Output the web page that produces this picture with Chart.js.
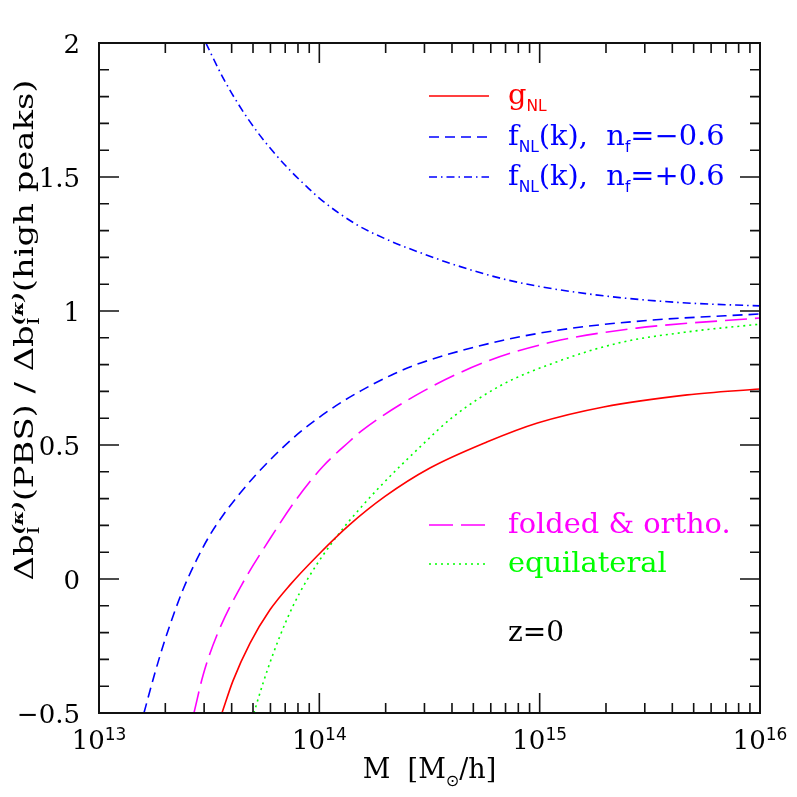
<!DOCTYPE html>
<html>
<head>
<meta charset="utf-8">
<script src="https://cdn.jsdelivr.net/npm/chart.js@4.4.0/dist/chart.umd.min.js"></script>
<style>
  html, body { margin: 0; padding: 0; background: #fff; }
</style>
</head>
<body>
<canvas id="biasChart" width="797" height="797"></canvas>
<script>
// curves: log10(M) and the bias ratio
var gnlLogM = [13.558, 13.608, 13.685, 13.776, 13.867, 13.989, 14.134, 14.298, 14.502, 14.76, 14.99, 15.29, 15.67, 16.0];
var gnlVal = [-0.5, -0.38, -0.240, -0.115, -0.022, 0.085, 0.200, 0.308, 0.414, 0.511, 0.582, 0.642, 0.687, 0.709];

var fnlMinusLogM = [13.204, 13.254, 13.299, 13.345, 13.381, 13.445, 13.504, 13.563, 13.640, 13.717, 13.808, 13.912, 14.016, 14.107, 14.19, 14.34, 14.46, 14.83, 15.14, 15.51, 16.0];
var fnlMinusVal = [-0.5, -0.350, -0.228, -0.118, -0.040, 0.075, 0.165, 0.238, 0.320, 0.393, 0.470, 0.548, 0.613, 0.663, 0.703, 0.766, 0.806, 0.890, 0.935, 0.966, 0.989];

var fnlPlusLogM = [13.485, 13.563, 13.640, 13.717, 13.790, 13.867, 13.944, 14.016, 14.17, 14.32, 14.47, 14.593, 14.833, 15.06, 15.364, 15.668, 16.0];
var fnlPlusVal = [2.0, 1.870, 1.762, 1.670, 1.595, 1.525, 1.463, 1.410, 1.322, 1.262, 1.214, 1.178, 1.120, 1.083, 1.050, 1.030, 1.019];

var foldedLogM = [13.431, 13.472, 13.535, 13.649, 13.776, 13.898, 14.016, 14.139, 14.19, 14.47, 14.76, 15.06, 15.44, 16.0];
var foldedVal = [-0.5, -0.36, -0.21, -0.02, 0.150, 0.300, 0.420, 0.515, 0.552, 0.700, 0.812, 0.885, 0.936, 0.974];

var equilLogM = [13.703, 13.744, 13.790, 13.853, 13.912, 13.989, 14.062, 14.134, 14.27, 14.46, 14.61, 14.83, 15.06, 15.36, 15.67, 16.0];
var equilVal = [-0.5, -0.39, -0.28, -0.150, -0.050, 0.055, 0.140, 0.215, 0.340, 0.495, 0.607, 0.725, 0.805, 0.881, 0.922, 0.951];

var xDecades = [13, 14, 15, 16];
var yTicks = [2, 1.5, 1, 0.5, 0, -0.5];
var yTickLabels = ['2', '1.5', '1', '0.5', '0', '\u22120.5'];

var SERIF = '"DejaVu Serif", serif';
var SANS = '"DejaVu Sans", sans-serif';

function pts(logM, val) {
  return logM.map(function (l, i) { return { x: Math.pow(10, l), y: val[i] }; });
}

function line(data, color, dash) {
  return {
    data: data,
    borderColor: color,
    borderWidth: 1.6,
    borderDash: dash,
    pointRadius: 0,
    fill: false,
    cubicInterpolationMode: 'monotone'
  };
}

// draw a run of text pieces: [text, font, dy, noAdvance]; stretch widens glyphs
function rich(ctx, parts, x, y, align, stretch) {
  stretch = stretch || 1;
  var w = 0;
  parts.forEach(function (p) {
    ctx.font = p[1];
    if (!p[3]) w += ctx.measureText(p[0]).width;
  });
  w *= stretch;
  var sx = align === 'center' ? x - w / 2 : (align === 'right' ? x - w : x);
  ctx.save();
  ctx.translate(sx, y);
  ctx.scale(stretch, 1);
  var cx = 0;
  parts.forEach(function (p) {
    ctx.font = p[1];
    ctx.fillText(p[0], cx, p[2] || 0);
    if (!p[3]) cx += ctx.measureText(p[0]).width;
  });
  ctx.restore();
}

var framePlugin = {
  id: 'frame',
  afterDatasetsDraw: function (chart) {
    var ctx = chart.ctx, a = chart.chartArea;
    var xs = chart.scales.x, ys = chart.scales.y;
    ctx.save();
    ctx.strokeStyle = '#111';
    ctx.fillStyle = '#000';

    // ticks on all four sides
    ctx.lineWidth = 1.6;
    ctx.beginPath();
    for (var d = 13; d < 16; d++) {
      for (var m = 1; m <= 9; m++) {
        var px = xs.getPixelForValue(m * Math.pow(10, d));
        var len = m === 1 ? 20 : 10;
        ctx.moveTo(px, a.bottom); ctx.lineTo(px, a.bottom - len);
        ctx.moveTo(px, a.top); ctx.lineTo(px, a.top + len);
      }
    }
    for (var k = 0; k <= 25; k++) {
      var py = ys.getPixelForValue(-0.5 + k * 0.1);
      var l2 = (k % 5 === 0) ? 20 : 10;
      ctx.moveTo(a.left, py); ctx.lineTo(a.left + l2, py);
      ctx.moveTo(a.right, py); ctx.lineTo(a.right - l2, py);
    }
    ctx.stroke();

    ctx.lineWidth = 2;
    ctx.strokeRect(a.left, a.top, a.right - a.left, a.bottom - a.top);

    ctx.textBaseline = 'alphabetic';
    ctx.textAlign = 'left';
    yTicks.forEach(function (t, i) {
      rich(ctx, [[yTickLabels[i], '26px ' + SERIF, 0]], 80, ys.getPixelForValue(t) + 9.5, 'right');
    });

    xDecades.forEach(function (d) {
      var px = xs.getPixelForValue(Math.pow(10, d));
      rich(ctx, [['10', '26px ' + SERIF, 0], [String(d), '17px ' + SANS, -9]], px, 749, 'center');
    });

    rich(ctx, [
      ['M  [M', '27px ' + SERIF, 0],
      ['\u2299', '16px ' + SANS, 8],
      ['/h]', '27px ' + SERIF, 0]
    ], (a.left + a.right) / 2, 778, 'center');

    // rotated y title
    ctx.save();
    ctx.translate(33, 330);
    ctx.rotate(-Math.PI / 2);
    var big = '26px ' + SERIF, sub = '16px ' + SERIF, sup = 'bold italic 15px ' + SERIF;
    rich(ctx, [
      ['\u0394b', big, 0],
      ['I', sub, 6, true],
      ['(\u03ba)', sup, -10],
      ['(PBS) / ', big, 0],
      ['\u0394b', big, 0],
      ['I', sub, 6, true],
      ['(\u03ba)', sup, -10],
      ['(high peaks)', big, 0]
    ], 0, 0, 'center', 1.3);
    ctx.restore();

    // legend
    var T = '28px ' + SERIF, S = '15px ' + SANS;
    var lg = [
      { y: 96, color: '#ff0000', dash: [], parts: [['g', T, 0], ['NL', S, 7]] },
      { y: 137, color: '#0000ff', dash: [10, 6], parts: [['f', T, 0], ['NL', S, 7], ['(k),  n', T, 0], ['f', S, 7], ['=\u22120.6', T, 0]] },
      { y: 177, color: '#0000ff', dash: [8, 4, 1.5, 4], parts: [['f', T, 0], ['NL', S, 7], ['(k),  n', T, 0], ['f', S, 7], ['=+0.6', T, 0]] },
      { y: 525, color: '#ff00ff', dash: [24, 8], parts: [['folded & ortho.', T, 0]] },
      { y: 564, color: '#00ff00', dash: [2, 4], parts: [['equilateral', T, 0]] }
    ];
    lg.forEach(function (e) {
      ctx.strokeStyle = e.color;
      ctx.lineWidth = 1.6;
      ctx.setLineDash(e.dash);
      ctx.beginPath();
      ctx.moveTo(429, e.y); ctx.lineTo(489, e.y);
      ctx.stroke();
      ctx.setLineDash([]);
      ctx.fillStyle = e.color;
      rich(ctx, e.parts, 508, e.y + 8, 'left', 1.03);
    });

    ctx.fillStyle = '#000';
    rich(ctx, [['z=0', T, 0]], 508, 641, 'left');
    ctx.restore();
  }
};

new Chart(document.getElementById('biasChart').getContext('2d'), {
  type: 'line',
  data: {
    datasets: [
      line(pts(gnlLogM, gnlVal), '#ff0000', []),
      line(pts(fnlMinusLogM, fnlMinusVal), '#0000ff', [10, 6]),
      line(pts(fnlPlusLogM, fnlPlusVal), '#0000ff', [8, 4, 1.5, 4]),
      line(pts(foldedLogM, foldedVal), '#ff00ff', [22, 8]),
      line(pts(equilLogM, equilVal), '#00ff00', [2, 4])
    ]
  },
  options: {
    responsive: false,
    animation: false,
    layout: { padding: { left: 99, top: 43, right: 37, bottom: 84 } },
    plugins: { legend: { display: false }, tooltip: { enabled: false } },
    scales: {
      x: { type: 'logarithmic', min: 1e13, max: 1e16, display: false },
      y: { type: 'linear', min: -0.5, max: 2, display: false }
    }
  },
  plugins: [framePlugin]
});
</script>
</body>
</html>
